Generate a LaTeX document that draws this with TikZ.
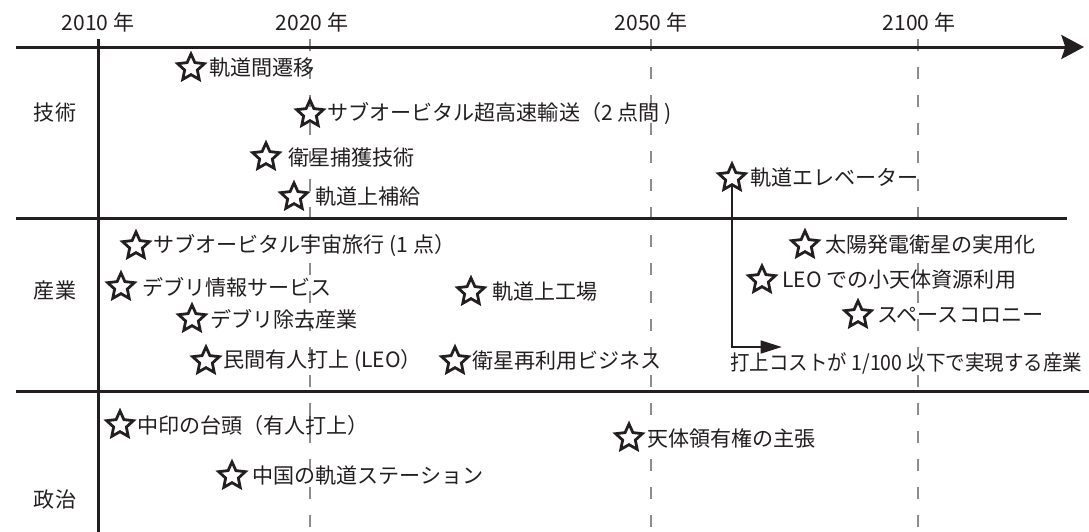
\documentclass[tikz,border=0pt]{standalone}
\usepackage{fontspec}
\usepackage{graphicx}
\setmainfont{Noto Sans CJK JP}
\usetikzlibrary{shapes.geometric,arrows.meta}
\definecolor{ink}{HTML}{231F20}
\definecolor{dashgray}{HTML}{8C8C8C}
\newcommand\evt[5]{%
  \node[starmark] (#1) at (#2,#3) {};
  \node[lbl] (#1t) at (#5,#3) {#4};}
\begin{document}
\begin{tikzpicture}[x=0.75pt,y=-0.75pt,
  lbl/.style={font=\fontsize{15.8pt}{18pt}\selectfont, text=ink, inner sep=0pt, anchor=west},
  ctr/.style={font=\fontsize{15.8pt}{18pt}\selectfont, text=ink, inner sep=0pt},
  starmark/.style={star, star points=5, star point ratio=2.1, minimum size=21pt, inner sep=0pt, draw=ink, line width=2.1pt, line join=miter},
  mainline/.style={line width=2.25pt, draw=ink},
  gridline/.style={draw=dashgray, line width=1.5pt, dash pattern=on 9pt off 12pt},
  costarrow/.style={draw=ink, line width=2pt, -{Triangle[length=16pt,width=9.5pt]}},
]
\useasboundingbox (0,0) rectangle (1089,532);
% year labels
\node[ctr] (y2010) at (98,22) {2010 年};
\node[ctr] (y2020) at (312,22) {2020 年};
\node[ctr] (y2050) at (651,22) {2050 年};
\node[ctr] (y2100) at (919,22) {2100 年};
% dashed year lines
\coordinate (g20a) at (310,39); \coordinate (g20b) at (310,532);
\coordinate (g50a) at (651,39); \coordinate (g50b) at (651,532);
\coordinate (g00a) at (918,39); \coordinate (g00b) at (918,532);
\draw[gridline] (g20a) -- (g20b);
\draw[gridline] (g50a) -- (g50b);
\draw[gridline] (g00a) -- (g00b);
% axis and frame lines
\coordinate (axL) at (16,47); \coordinate (axR) at (1084,47);
\draw[mainline, -{Stealth[length=17pt,width=18pt,inset=3pt]}] (axL) -- (axR);
\coordinate (vT) at (98,39); \coordinate (vB) at (98,532);
\draw[mainline] (vT) -- (vB);
\coordinate (s1L) at (16,218); \coordinate (s1R) at (1067,218);
\draw[mainline] (s1L) -- (s1R);
\coordinate (s2L) at (16,391); \coordinate (s2R) at (1089,391);
\draw[mainline] (s2L) -- (s2R);
% row labels
\node[ctr] (r1) at (55,113) {技術};
\node[ctr] (r2) at (55,290) {産業};
\node[ctr] (r3) at (55,499) {政治};
% technology
\evt{e1}{191}{68}{軌道間遷移}{209}
\evt{e2}{310}{114}{サブオービタル超高速輸送（2 点間 )}{327}
\evt{e3}{266}{157}{衛星捕獲技術}{288}
\evt{e4}{294}{197}{軌道上補給}{315}
\evt{e5}{732}{178}{軌道エレベーター}{750}
% industry
\evt{i1}{136}{246}{サブオービタル宇宙旅行 (1 点）}{153}
\evt{i2}{121}{287}{デブリ情報サービス}{142}
\evt{i3}{471}{292}{軌道上工場}{492}
\evt{i4}{192}{319}{デブリ除去産業}{210}
\evt{i5}{206}{361}{民間有人打上 (LEO）}{223}
\evt{i6}{455}{361}{衛星再利用ビジネス}{472}
\evt{i7}{805}{245}{太陽発電衛星の実用化}{825}
\evt{i8}{762}{280}{LEO での小天体資源利用}{782}
\evt{i9}{858}{315}{スペースコロニー}{877}
\node[lbl] (cost) at (730,363) {\scalebox{0.925}[1]{打上コストが 1/100 以下で実現する産業}};
\coordinate (costc) at (732,347); \coordinate (costtip) at (782,347);
\draw[costarrow] (e5.south) -- (costc) -- (costtip);
% politics
\evt{p1}{120}{425}{中印の台頭（有人打上）}{137}
\evt{p2}{232}{476}{中国の軌道ステーション}{252}
\evt{p3}{629}{438}{天体領有権の主張}{647}
\end{tikzpicture}
\end{document}
